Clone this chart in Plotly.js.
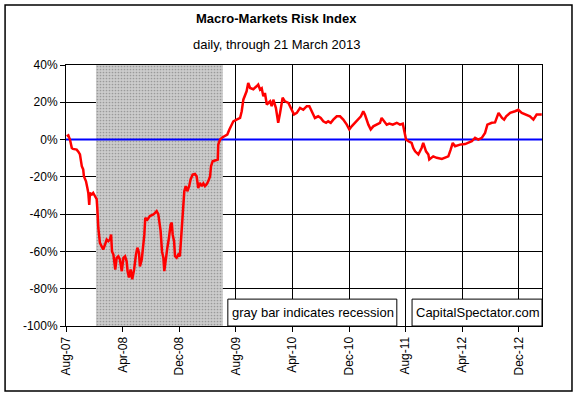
<!DOCTYPE html>
<html>
<head>
<meta charset="utf-8">
<script src="https://cdn.plot.ly/plotly-3.0.1.min.js"></script>
<style>
  html, body { margin: 0; padding: 0; background: #ffffff; }
  #chart { width: 577px; height: 396px; }
</style>
</head>
<body>
<div id="chart"></div>
<script>
// ---- Data ----
const dates = [
  "2007-08-04","2007-08-11","2007-08-18","2007-08-26","2007-08-31","2007-09-09","2007-09-16","2007-09-23","2007-09-30",
  "2007-10-08","2007-10-14","2007-10-17","2007-10-26","2007-11-01","2007-11-05","2007-11-09","2007-11-12","2007-11-20",
  "2007-11-26","2007-12-04","2007-12-11","2007-12-14","2007-12-18","2007-12-25","2008-01-02","2008-01-08","2008-01-16",
  "2008-01-23","2008-01-30","2008-02-06","2008-02-11","2008-02-15","2008-02-21","2008-02-25","2008-02-29","2008-03-06",
  "2008-03-13","2008-03-20","2008-03-28","2008-04-04","2008-04-11","2008-04-18","2008-04-22","2008-04-28","2008-05-05",
  "2008-05-12","2008-05-20","2008-05-28","2008-06-03","2008-06-10","2008-06-14","2008-06-22","2008-06-29","2008-07-03",
  "2008-07-07","2008-07-16","2008-07-27","2008-08-11","2008-08-18","2008-08-25","2008-09-01","2008-09-05","2008-09-11",
  "2008-09-17","2008-09-23","2008-09-27","2008-10-03","2008-10-10","2008-10-17","2008-10-24","2008-10-29","2008-11-02",
  "2008-11-08","2008-11-12","2008-11-19","2008-11-26","2008-12-03","2008-12-11","2008-12-15","2008-12-22","2008-12-28",
  "2009-01-04","2009-01-12","2009-01-18","2009-01-27","2009-02-06","2009-02-13","2009-02-20","2009-02-27","2009-03-07",
  "2009-03-14","2009-03-21","2009-03-28","2009-04-04","2009-04-12","2009-04-16","2009-04-23","2009-05-03","2009-05-15",
  "2009-05-17","2009-05-25","2009-06-05","2009-06-15","2009-06-25","2009-07-04","2009-07-14","2009-07-21","2009-08-04",
  "2009-08-19","2009-08-26","2009-09-02","2009-09-16","2009-09-23","2009-10-01","2009-10-15","2009-10-29","2009-11-05",
  "2009-11-13","2009-11-20","2009-11-27","2009-12-04","2009-12-12","2009-12-26","2010-01-02","2010-01-09","2010-01-20",
  "2010-01-30","2010-02-07","2010-02-18","2010-02-28","2010-03-15","2010-03-29","2010-04-08","2010-04-20","2010-05-04",
  "2010-05-18","2010-06-02","2010-06-13","2010-06-23","2010-07-07","2010-07-21","2010-08-01","2010-08-12","2010-08-24",
  "2010-09-02","2010-09-13","2010-09-24","2010-10-09","2010-10-23","2010-11-06","2010-11-21","2010-12-02","2010-12-12",
  "2010-12-26","2011-01-10","2011-01-21","2011-01-31","2011-02-07","2011-02-22","2011-03-04","2011-03-15","2011-03-30",
  "2011-04-13","2011-04-20","2011-05-01","2011-05-12","2011-05-23","2011-06-07","2011-06-24","2011-07-08","2011-07-20",
  "2011-07-27","2011-08-03","2011-08-13","2011-08-27","2011-09-03","2011-09-11","2011-09-25","2011-10-09","2011-10-16",
  "2011-10-28","2011-11-07","2011-11-11","2011-11-28","2011-12-13","2012-01-04","2012-01-18","2012-02-01","2012-02-11",
  "2012-02-20","2012-03-01","2012-03-22","2012-04-13","2012-04-27","2012-05-12","2012-05-26","2012-06-09","2012-06-24",
  "2012-07-08","2012-07-18","2012-08-06","2012-08-20","2012-09-04","2012-09-19","2012-09-28","2012-10-07","2012-10-24",
  "2012-11-14","2012-11-28","2012-12-13","2013-01-03","2013-01-17","2013-02-01","2013-02-15","2013-03-09"
];
const values = [
  1.8, 2.3, 0, -4.5, -5, -5, -5.4, -6.5, -8,
  -14.3, -16, -19.7, -22.4, -26, -28.6, -35, -28.6, -29.5,
  -28.6, -30.4, -32, -37.5, -47.4, -55.4, -58, -59, -56.3,
  -53.6, -54.5, -53.6, -51, -60, -61.7, -65.3, -69.7, -63.4,
  -62.6, -64.3, -70.6, -63.4, -62.6, -65.3, -70.6, -74, -69.7,
  -75, -69.7, -61.7, -58, -60.7, -68, -64.3, -57.2, -51,
  -42, -43, -41, -40.2, -39.3, -38.4, -40, -43, -49,
  -60, -63.4, -70.6, -63.4, -58, -52.7, -45.6, -44.6, -51,
  -54.5, -62.6, -63.4, -61.7, -62.6, -45.6, -38.4, -27.7, -25,
  -27.7, -25, -21.4, -18.8, -18.4, -19.7, -26, -23.2, -25,
  -23.5, -25, -24, -22.4, -19.7, -14.3, -11.6, -11.3, -10.7,
  -2.7, 0, 1.3, 1.8, 2.7, 5.4, 7.7, 9.8, 10.7,
  11.6, 15.2, 21.4, 25.9, 30.4, 27.7, 27, 28.6, 29.5,
  26.8, 27.5, 23.2, 25, 18.8, 20.5, 17.9, 21.4, 17,
  9, 14.3, 22.4, 20.5, 19.7, 16, 13.4, 14.3, 17,
  16, 17.9, 17.9, 15.2, 11.6, 12.5, 11.6, 9.8, 9,
  9.8, 9, 10.7, 12.5, 12.5, 10.7, 8, 5.4, 7.1,
  9, 10.7, 12.5, 15.2, 13.4, 8, 5.4, 7.1, 8,
  9, 11.6, 9.8, 8, 8.6, 8, 9, 8, 8.5,
  4.5, 0, -0.9, -1.8, -4.5, -6.3, -8, -4.5, -1.8,
  -6.3, -8, -10.7, -9, -9.8, -10.4, -9.8, -9, -5.4,
  -1.8, -3.6, -2.7, -2.4, -1.8, -0.9, 0.9, 0, 0.9,
  3.6, 8, 9, 9.2, 14.3, 11.6, 10.7, 12.5, 14.3,
  15.2, 16, 14.3, 13.4, 12.5, 10.7, 13.4, 13.4
];
const recessionStart = "2007-12-08";
const recessionEnd = "2009-06-06";
const axisStart = "2007-08-01";
const axisEnd = "2013-03-10";
const tickDates = ["2007-08-01","2008-04-01","2008-12-01","2009-08-01","2010-04-01","2010-12-01","2011-08-01","2012-04-01","2012-12-01"];
const yTicks = [-100, -80, -60, -40, -20, 0, 20, 40];
const yMin = -100, yMax = 40;

const FONT = "Liberation Sans, Arial, sans-serif";

const traces = [
  { // recession band
    x: [recessionStart, recessionStart, recessionEnd, recessionEnd],
    y: [yMin, yMax, yMax, yMin],
    type: "scatter", mode: "lines", fill: "toself",
    fillcolor: "#c4c4c4",
    fillpattern: { shape: ".", fgcolor: "#9a9a9a", bgcolor: "#cccccc", size: 3, solidity: 0.25 },
    line: { width: 0 }, hoverinfo: "skip", showlegend: false
  },
  { // zero reference line
    x: [axisStart, axisEnd], y: [0, 0],
    type: "scatter", mode: "lines",
    line: { color: "#0000ff", width: 2 }, hoverinfo: "skip", showlegend: false
  },
  { // index
    x: dates, y: values,
    type: "scatter", mode: "lines",
    line: { color: "#ff0000", width: 2.5 }, showlegend: false
  }
];

const layout = {
  width: 577, height: 396,
  margin: { l: 66, r: 35, t: 65, b: 70 },
  paper_bgcolor: "#ffffff", plot_bgcolor: "#ffffff",
  font: { family: FONT, size: 12, color: "#000000" },
  showlegend: false,
  xaxis: {
    type: "date",
    range: [axisStart, axisEnd],
    tickvals: tickDates,
    tickformat: "%b-%y",
    tickangle: -90,
    ticks: "outside", ticklen: 5, tickcolor: "#000",
    showgrid: true, gridcolor: "#000000", gridwidth: 1,
    showline: true, linecolor: "#000000", linewidth: 1, mirror: true,
    zeroline: false,
    tickfont: { family: FONT, size: 12, color: "#000" }
  },
  yaxis: {
    range: [yMin, yMax],
    tickvals: yTicks,
    ticktext: yTicks.map(v => v + "%"),
    ticks: "outside", ticklen: 5, tickcolor: "#000",
    showgrid: true, gridcolor: "#000000", gridwidth: 1,
    showline: true, linecolor: "#000000", linewidth: 1, mirror: true,
    zeroline: false,
    tickfont: { family: FONT, size: 12, color: "#000" }
  },
  shapes: [
    { type: "rect", xref: "paper", yref: "paper", x0: -0.128, x1: 1.063, y0: -0.249, y1: 1.230,
      line: { color: "#000", width: 1.5 }, fillcolor: "rgba(0,0,0,0)", layer: "above" },
    { type: "rect", xref: "paper", yref: "paper", x0: 0.340, x1: 0.695, y0: 0, y1: 0.103,
      line: { color: "#000", width: 1 }, fillcolor: "#ffffff", layer: "above" },
    { type: "rect", xref: "paper", yref: "paper", x0: 0.727, x1: 1.0, y0: 0, y1: 0.103,
      line: { color: "#000", width: 1 }, fillcolor: "#ffffff", layer: "above" }
  ],
  annotations: [
    { text: "<b>Macro-Markets Risk Index</b>", xref: "paper", yref: "paper",
      x: 0.443, y: 1.18, xanchor: "center", yanchor: "middle", showarrow: false,
      font: { family: FONT, size: 13, color: "#000" } },
    { text: "daily, through 21 March 2013", xref: "paper", yref: "paper",
      x: 0.443, y: 1.08, xanchor: "center", yanchor: "middle", showarrow: false,
      font: { family: FONT, size: 13, color: "#000" } },
    { text: "gray bar indicates recession", xref: "paper", yref: "paper",
      x: 0.3445, y: 0.052, xanchor: "left", yanchor: "middle", showarrow: false,
      font: { family: FONT, size: 13, color: "#000" } },
    { text: "CapitalSpectator.com", xref: "paper", yref: "paper",
      x: 0.732, y: 0.052, xanchor: "left", yanchor: "middle", showarrow: false,
      font: { family: FONT, size: 13, color: "#000" } }
  ]
};

Plotly.newPlot("chart", traces, layout, { staticPlot: true, displayModeBar: false });
</script>
</body>
</html>
